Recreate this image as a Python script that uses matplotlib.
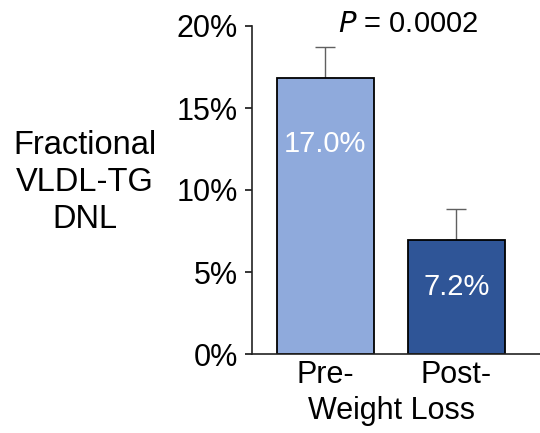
import matplotlib
matplotlib.use("Agg")
import matplotlib.pyplot as plt
from matplotlib.ticker import FuncFormatter

plt.rcParams['font.family'] = ['Liberation Sans', 'DejaVu Sans']

categories = ["Pre-", "Post-"]
values = [16.85, 6.95]
errors = [1.85, 1.9]
bar_labels = ["17.0%", "7.2%"]
label_y = [12.8, 4.1]
colors = ["#8FAADC", "#2F5597"]
yticks = [0, 5, 10, 15, 20]

fig = plt.figure(figsize=(5.4, 4.33), dpi=100)
ax = fig.add_axes([252/540, 79/433, 1 - 252/540, (354-26)/433])

x = list(range(len(categories)))
ax.bar(x, values, width=0.74, color=colors, edgecolor="black", linewidth=1.3, zorder=2)
ax.errorbar(x, values, yerr=[[0]*len(errors), errors], fmt="none", ecolor="#606060",
            elinewidth=1.0, capsize=7, capthick=1.0, zorder=1)
for xi, lab, ly in zip(x, bar_labels, label_y):
    ax.text(xi, ly, lab, ha="center", va="center", color="white", fontsize=21)

ax.set_xlim(-0.56, 1.64)
ax.set_ylim(0, 20)
ax.set_yticks(yticks)
ax.yaxis.set_major_formatter(FuncFormatter(lambda v, p: f"{int(v)}%"))
ax.set_xticks(x)
ax.set_xticklabels(categories, fontsize=22)
ax.tick_params(axis="y", labelsize=22, length=5, width=1.1, pad=5)
ax.tick_params(axis="x", length=0, pad=4)
for s in ["top", "right"]:
    ax.spines[s].set_visible(False)
for s in ["left", "bottom"]:
    ax.spines[s].set_linewidth(1.2)
    ax.spines[s].set_color("#222222")

fig.text(85/540, 1 - 182/433, "Fractional\nVLDL-TG\nDNL", ha="center", va="center",
         multialignment="center", fontsize=23.5, linespacing=1.25)
fig.text(392/540, 1 - 411/433, "Weight Loss", ha="center", va="center", fontsize=22)
fig.text(408/540, 1 - 24/433, r"$\it{P}$ = 0.0002", ha="center", va="center", fontsize=21)

fig.savefig("out.png", dpi=100)
